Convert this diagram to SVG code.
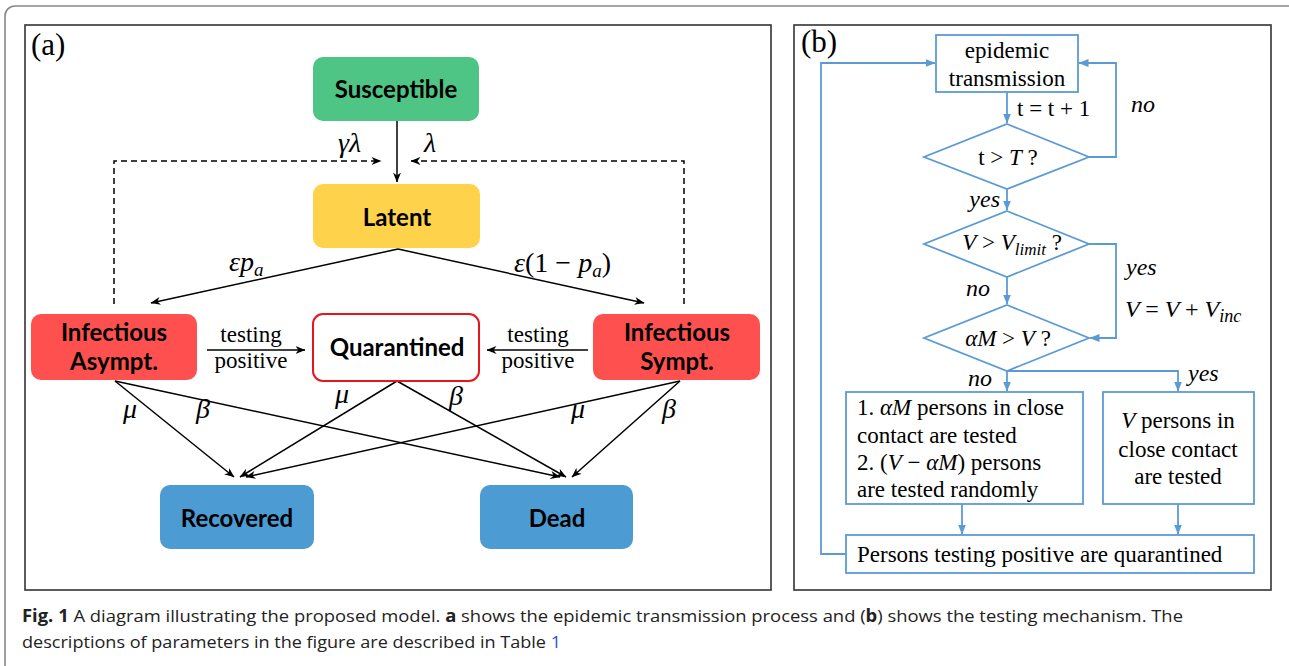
<svg xmlns="http://www.w3.org/2000/svg" width="1289" height="666" viewBox="0 0 1289 666">
<style>
.frame{fill:none;stroke:#333;stroke-width:1.6}
.node{font-family:Lato,"Open Sans",sans-serif;font-weight:bold;font-size:24px;fill:#000;text-anchor:middle}
.ser{font-family:"Liberation Serif","Times New Roman",serif;font-size:23px;fill:#000}
.it{font-style:italic}
.up{font-style:normal}
.math{font-family:"Liberation Serif","Times New Roman",serif;font-style:italic;font-size:24px;fill:#000}
.greek{font-family:"Liberation Serif","Times New Roman",serif;font-style:italic;font-size:28px;fill:#000}
.blk{fill:none;stroke:#000;stroke-width:1.5}
.dash{fill:none;stroke:#000;stroke-width:1.5;stroke-dasharray:6 4}
.blu{fill:none;stroke:#5B9BD5;stroke-width:1.8}
.bbox{fill:#fff;stroke:#5B9BD5;stroke-width:1.8}
.cap{font-family:"Open Sans","Noto Sans",sans-serif;font-size:17px;fill:#222}
</style>
<defs>
<marker id="ab" viewBox="0 0 10 10" refX="9.5" refY="5" markerWidth="10" markerHeight="10" markerUnits="userSpaceOnUse" orient="auto">
<path d="M0,1 L10,5 L0,9 L3,5 z" fill="#000"/>
</marker>
<marker id="au" viewBox="0 0 10 10" refX="9.5" refY="5" markerWidth="10" markerHeight="10" markerUnits="userSpaceOnUse" orient="auto">
<path d="M0,1 L10,5 L0,9 z" fill="#5B9BD5"/>
</marker>
</defs>
<rect width="1289" height="666" fill="#fff"/>
<rect x="5" y="6" width="1300" height="720" rx="10" fill="none" stroke="#888" stroke-width="1.6"/>
<rect class="frame" x="25" y="25" width="746" height="565"/>
<rect class="frame" x="794" y="25" width="477" height="565"/>
<text x="31" y="55" font-family="Liberation Serif,serif" font-size="31px">(a)</text>
<text x="801" y="52" font-family="Liberation Serif,serif" font-size="31px">(b)</text>

<g id="connectors-a">
<path class="blk" d="M397,121 V182" marker-end="url(#ab)"/>
<path class="dash" d="M114,304 V161 H381" marker-end="url(#ab)"/>
<path class="dash" d="M684,304 V161 H411" marker-end="url(#ab)"/>
<path class="blk" d="M398,249 L151,303" marker-end="url(#ab)"/>
<path class="blk" d="M398,249 L644,303" marker-end="url(#ab)"/>
<path class="blk" d="M207,350 H305" marker-end="url(#ab)"/>
<path class="blk" d="M588,350 H487" marker-end="url(#ab)"/>
<path class="blk" d="M115,381 L234,477" marker-end="url(#ab)"/>
<path class="blk" d="M115,381 L560,477" marker-end="url(#ab)"/>
<path class="blk" d="M397,381 L240,477" marker-end="url(#ab)"/>
<path class="blk" d="M397,381 L566,477" marker-end="url(#ab)"/>
<path class="blk" d="M680,381 L246,477" marker-end="url(#ab)"/>
<path class="blk" d="M680,381 L572,477" marker-end="url(#ab)"/>
<text class="greek" x="338" y="152">γλ</text>
<text class="greek" x="424" y="152">λ</text>
<text class="greek" x="229" y="271">εp<tspan font-size="19px" dy="5">a</tspan></text>
<text class="greek" x="514" y="272">ε<tspan class="up">(1 − </tspan>p<tspan font-size="19px" dy="5">a</tspan><tspan class="up" dy="-5">)</tspan></text>
<text class="ser" x="251" y="342" text-anchor="middle">testing</text>
<text class="ser" x="251" y="368" text-anchor="middle">positive</text>
<text class="ser" x="538" y="342" text-anchor="middle">testing</text>
<text class="ser" x="538" y="368" text-anchor="middle">positive</text>
<text class="greek" x="123" y="418">μ</text>
<text class="greek" x="196" y="418">β</text>
<text class="greek" x="335" y="403">μ</text>
<text class="greek" x="449" y="405">β</text>
<text class="greek" x="571" y="418">μ</text>
<text class="greek" x="662" y="418">β</text>
</g>

<g id="susceptible">
<rect x="313" y="57" width="166" height="64" rx="10" fill="#4FC585"/>
<text class="node" x="396" y="98">Susceptible</text>
</g>
<g id="latent">
<rect x="313" y="184" width="167" height="64" rx="10" fill="#FFD24C"/>
<text class="node" x="397" y="226">Latent</text>
</g>
<g id="infectious-asympt">
<rect x="31" y="314" width="166" height="66" rx="10" fill="#FF5050"/>
<text class="node" x="114" y="341">Infectious</text>
<text class="node" x="114" y="370">Asympt.</text>
</g>
<g id="quarantined">
<rect x="313" y="314" width="166" height="67" rx="10" fill="#fff" stroke="#E8161B" stroke-width="2"/>
<text class="node" x="397" y="356">Quarantined</text>
</g>
<g id="infectious-sympt">
<rect x="593" y="314" width="167" height="66" rx="10" fill="#FF5050"/>
<text class="node" x="677" y="341">Infectious</text>
<text class="node" x="677" y="370">Sympt.</text>
</g>
<g id="recovered">
<rect x="160" y="485" width="154" height="64" rx="10" fill="#4C9BD3"/>
<text class="node" x="237" y="527">Recovered</text>
</g>
<g id="dead">
<rect x="480" y="485" width="153" height="64" rx="10" fill="#4C9BD3"/>
<text class="node" x="557" y="527">Dead</text>
</g>

<g id="connectors-b">
<path class="blu" d="M1007,92 V123" marker-end="url(#au)"/>
<path class="blu" d="M1089,157 H1116 V63 H1079" marker-end="url(#au)"/>
<path class="blu" d="M1007,189 V210" marker-end="url(#au)"/>
<path class="blu" d="M1089,244 H1116 V338 H1090" marker-end="url(#au)"/>
<path class="blu" d="M1007,277 V304" marker-end="url(#au)"/>
<path class="blu" d="M1007,371 V391" marker-end="url(#au)"/>
<path class="blu" d="M1007,371 H1178 V391" marker-end="url(#au)"/>
<path class="blu" d="M962,504 V534" marker-end="url(#au)"/>
<path class="blu" d="M1178,504 V534" marker-end="url(#au)"/>
<path class="blu" d="M846,554 H821 V63 H935" marker-end="url(#au)"/>
<text class="ser" x="1017" y="116">t = t + 1</text>
<text class="math" x="1131" y="112">no</text>
<text class="math" x="1000" y="207" text-anchor="end">yes</text>
<text class="math" x="1126" y="275">yes</text>
<text class="math" x="1125" y="317" font-size="25px">V <tspan class="up">=</tspan> V <tspan class="up">+</tspan> V<tspan font-size="18px" dy="5">inc</tspan></text>
<text class="math" x="966" y="296">no</text>
<text class="math" x="968" y="386">no</text>
<text class="math" x="1188" y="381">yes</text>
</g>

<g id="epidemic-transmission">
<rect class="bbox" x="936" y="35" width="142" height="57"/>
<text class="ser" x="1007" y="58" text-anchor="middle">epidemic</text>
<text class="ser" x="1007" y="86" text-anchor="middle">transmission</text>
</g>
<g id="decision-t">
<polygon class="bbox" points="1007,124 1089,157 1007,189 924,157"/>
<text class="ser" x="1008" y="165" text-anchor="middle">t &gt; <tspan class="it">T</tspan> ?</text>
</g>
<g id="decision-v">
<polygon class="bbox" points="1007,211 1089,244 1007,277 924,244"/>
<text class="ser" x="1012" y="250" text-anchor="middle"><tspan class="it">V</tspan> &gt; <tspan class="it">V</tspan><tspan class="it" font-size="17px" dy="5">limit</tspan><tspan dy="-5"> ?</tspan></text>
</g>
<g id="decision-am">
<polygon class="bbox" points="1007,305 1089,338 1007,371 924,338"/>
<text class="ser" x="1008" y="346" text-anchor="middle"><tspan class="it">αM</tspan> &gt; <tspan class="it">V</tspan> ?</text>
</g>
<g id="test-close-random">
<rect class="bbox" x="846" y="392" width="237" height="112"/>
<text class="ser" x="857" y="415">1. <tspan class="it">αM</tspan> persons in close</text>
<text class="ser" x="857" y="443">contact are tested</text>
<text class="ser" x="857" y="470">2. (<tspan class="it">V</tspan> − <tspan class="it">αM</tspan>) persons</text>
<text class="ser" x="857" y="497">are tested randomly</text>
</g>
<g id="test-close">
<rect class="bbox" x="1103" y="392" width="151" height="112"/>
<text class="ser" x="1178" y="428" text-anchor="middle"><tspan class="it">V</tspan> persons in</text>
<text class="ser" x="1178" y="457" text-anchor="middle">close contact</text>
<text class="ser" x="1178" y="484" text-anchor="middle">are tested</text>
</g>
<g id="quarantine-positive">
<rect class="bbox" x="846" y="535" width="408" height="38"/>
<text class="ser" x="857" y="562">Persons testing positive are quarantined</text>
</g>

<g id="caption">
<text class="cap" x="22" y="622" textLength="1161" lengthAdjust="spacingAndGlyphs"><tspan font-weight="bold">Fig. 1</tspan> A diagram illustrating the proposed model. <tspan font-weight="bold">a</tspan> shows the epidemic transmission process and (<tspan font-weight="bold">b</tspan>) shows the testing mechanism. The</text>
<text class="cap" x="22" y="648" textLength="539" lengthAdjust="spacingAndGlyphs">descriptions of parameters in the figure are described in Table <tspan fill="#3355CC">1</tspan></text>
</g>
</svg>
